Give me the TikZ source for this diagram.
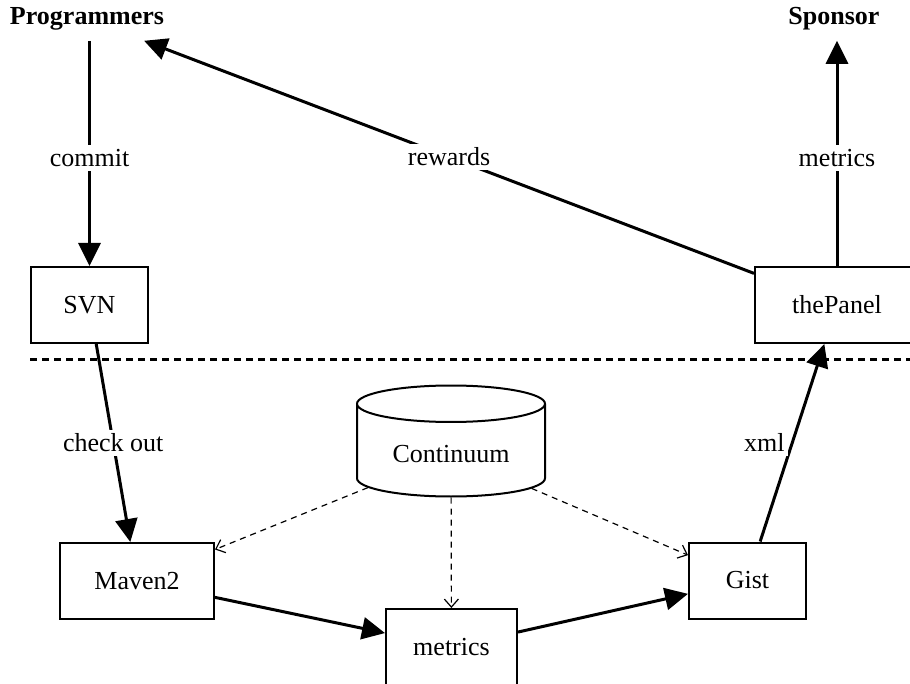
\documentclass[tikz,border=0pt]{standalone}
\usepackage{fontspec}
\setmainfont{Liberation Serif}
\usetikzlibrary{shapes.geometric,arrows.meta}
\tikzset{
  box/.style={draw, line width=1pt, minimum height=38pt},
  store/.style={draw, line width=1pt, cylinder, shape border rotate=90, aspect=0.28},
  flow/.style={line width=1.5pt, -{Triangle[length=11.5pt,width=11pt]}},
  watch/.style={line width=0.6pt, dash pattern=on 3pt off 2.5pt, -{Straight Barb[length=4pt,width=7pt]}},
  lbl/.style={fill=white, inner sep=2pt},
  actor/.style={font=\fontsize{13}{16}\selectfont\bfseries, inner xsep=2pt, inner ysep=5pt}
}
\begin{document}
\begin{tikzpicture}[x=0.5pt,y=-0.5pt,font=\fontsize{13}{16}\selectfont]
  \useasboundingbox (0,0) rectangle (910,684);

  % Who uses it
  \node[actor] (prog) at (87,19) {Programmers};
  \node[actor] (sponsor) at (834,19) {Sponsor};

  % Boxes above and below the line
  \node[box, minimum width=58.5pt] (svn) at (89.5,305) {SVN};
  \node[box, minimum width=82pt] (panel) at (837,305) {thePanel};
  \node[box, minimum width=77pt] (maven) at (137,581) {Maven2};
  \node[box, minimum width=65.5pt] (metrics) at (451.5,647) {metrics};
  \node[box, minimum width=58.5pt] (gist) at (747.5,580.5) {Gist};
  \node[store, minimum width=94pt, minimum height=55.5pt, anchor=north] (cont) at (451,384.5) {Continuum};

  % Divider
  \draw[line width=1.5pt, dash pattern=on 3.5pt off 2.5pt] (30,359) -- (910,359);

  % Arrows
  \draw[flow] (prog.south -| svn.north) -- node[lbl, pos=.52]{commit} (svn.north);
  \draw[flow] (panel) -- node[lbl]{rewards} (prog);
  \draw[flow] (panel.north) -- node[lbl, pos=.48]{metrics} (panel.north |- sponsor.south);
  \draw[flow] (svn) -- node[lbl]{check out} (maven);
  \draw[flow] (gist) -- node[lbl, xshift=-14pt]{xml} (panel);
  \draw[flow] (maven) -- (metrics);
  \draw[flow] (metrics) -- (gist);
  \draw[watch] (cont) -- (maven);
  \draw[watch] (cont) -- (metrics);
  \draw[watch] (cont) -- (gist);
\end{tikzpicture}
\end{document}
